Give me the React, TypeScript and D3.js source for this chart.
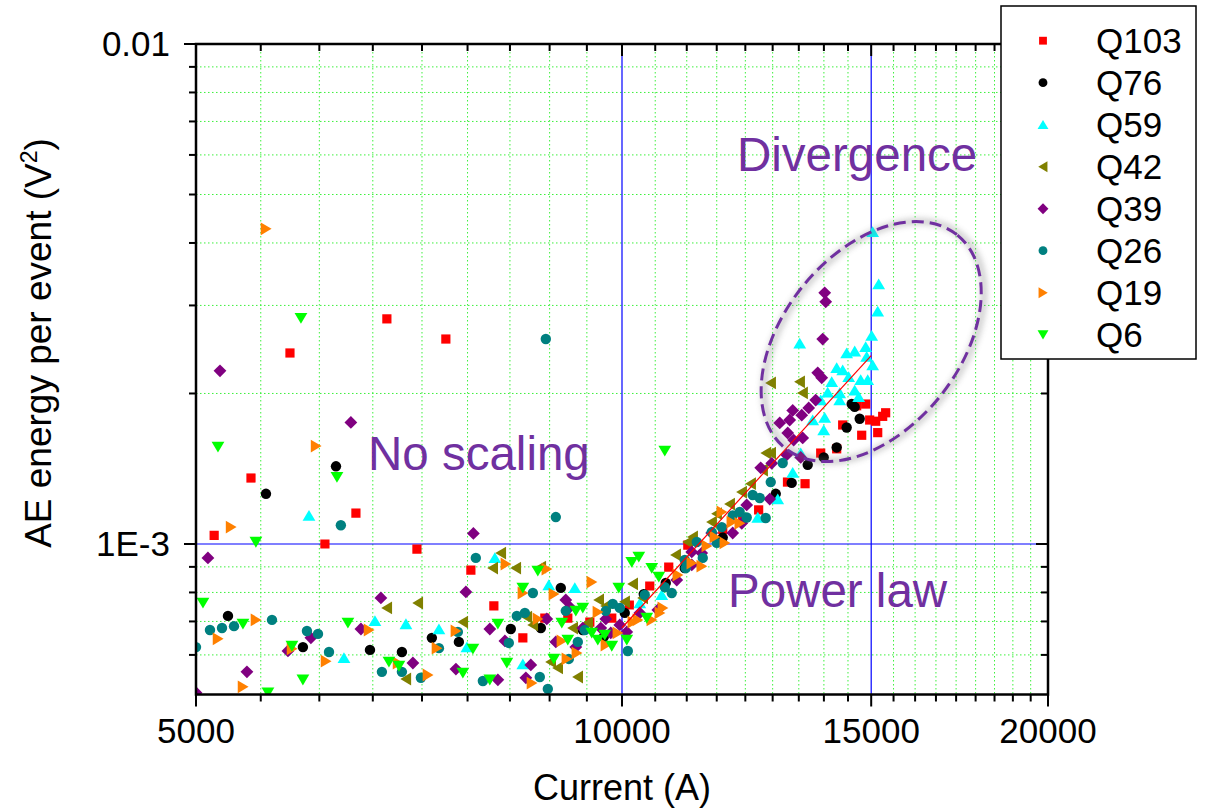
import React from 'react';
import * as d3 from 'd3';

const WIDTH = 1206;
const HEIGHT = 809;
const PLOT = { left: 196, right: 1048, top: 44, bottom: 694.5 };

// Axis ticks
const X_MAJOR = [5000, 10000, 15000, 20000];
const X_LABELS = ['5000', '10000', '15000', '20000'];
const Y_MAJOR = [0.01, 1e-3];
const Y_LABELS = ['0.01', '1E-3'];
const Y_MINOR = [6e-4, 7e-4, 8e-4, 9e-4, 2e-3, 3e-3, 4e-3, 5e-3, 6e-3, 7e-3, 8e-3, 9e-3];

// Power-law fit over the scaling region [current (A), energy (V^2)]
const FIT_LINE: [number, number][] = [[10000, 6.8e-4], [15000, 2.38e-3]];
// Centre of the "divergence" ellipse [current (A), energy (V^2)]
const DIVERGENCE_CENTER: [number, number] = [15000, 2.54e-3];

// Measurements per coil: [current (A), AE energy per event (V^2)]
const Q103: [number, number][] = [
  [5150, 1.04e-3], [5468, 1.355e-3], [5826, 2.41e-3], [6167, 1.0e-3], [6486, 1.153e-3],
  [6821, 2.82e-3], [7163, 9.77e-4], [7508, 2.57e-3], [7820, 8.87e-4], [8118, 7.52e-4],
  [8510, 6.49e-4], [8820, 7.11e-4], [9156, 7.11e-4], [9490, 6.98e-4], [9835, 7.11e-4],
  [10120, 7.55e-4], [10462, 8.24e-4], [10790, 8.99e-4], [11130, 9.95e-4], [11781, 1.07e-3],
  [12170, 1.12e-3], [12490, 1.17e-3], [13090, 1.33e-3], [13470, 1.32e-3], [13817, 1.52e-3],
  [14181, 1.55e-3], [14320, 1.73e-3], [14650, 1.89e-3], [14866, 1.905e-3], [14770, 1.65e-3],
  [14963, 1.77e-3], [15110, 1.76e-3], [15160, 1.67e-3], [15283, 1.8e-3], [15357, 1.83e-3],
];
const Q76: [number, number][] = [
  [5267, 7.18e-4], [5603, 1.26e-3], [5950, 6.22e-4], [6279, 1.43e-3], [6636, 6.14e-4],
  [6990, 6.08e-4], [7339, 6.49e-4], [7669, 6.37e-4], [8345, 6.76e-4], [8763, 6.79e-4],
  [9052, 8.17e-4], [9382, 6.73e-4], [9708, 6.52e-4], [10045, 7.28e-4], [10360, 7.94e-4],
  [10738, 8.36e-4], [11075, 8.95e-4], [11781, 1.03e-3], [12842, 1.26e-3], [13180, 1.325e-3],
  [13528, 1.44e-3], [13885, 1.49e-3], [14181, 1.56e-3], [14413, 1.71e-3], [14532, 1.905e-3],
  [14603, 1.88e-3], [14722, 1.78e-3],
];
const Q59: [number, number][] = [
  [6009, 1.14e-3], [6361, 5.92e-4], [6690, 7.02e-4], [7036, 6.92e-4], [7424, 6.76e-4],
  [7770, 6.22e-4], [8131, 9.38e-4], [8510, 5.75e-4], [8877, 8.28e-4], [9261, 8.17e-4],
  [10294, 7.62e-4], [10668, 7.91e-4], [12472, 1.13e-3], [12884, 1.23e-3], [13202, 1.39e-3],
  [13375, 1.52e-3], [13353, 2.52e-3], [13638, 1.77e-3], [13817, 1.94e-3], [13885, 1.69e-3],
  [13907, 1.79e-3], [13975, 2.01e-3], [14067, 2.11e-3], [14181, 2.25e-3], [14251, 2.005e-3],
  [14251, 1.94e-3], [14320, 2.228e-3], [14413, 2.41e-3], [14460, 2.16e-3], [14603, 2.43e-3],
  [14603, 2.03e-3], [14698, 1.97e-3], [14746, 2.13e-3], [14866, 2.48e-3], [14890, 2.37e-3],
  [14915, 2.13e-3], [15036, 2.28e-3], [15012, 2.61e-3], [15160, 2.92e-3], [15184, 3.31e-3],
  [15036, 4.21e-3],
];
const Q42: [number, number][] = [
  [6821, 7.45e-4], [7036, 5.37e-4], [7174, 7.62e-4], [7719, 6.98e-4], [8104, 8.95e-4],
  [8211, 9.59e-4], [8414, 8.95e-4], [8566, 7.14e-4], [8650, 6.89e-4], [8763, 8.99e-4],
  [8906, 5.81e-4], [9008, 5.65e-4], [9231, 6.79e-4], [9306, 5.42e-4], [9459, 6.95e-4],
  [9630, 7.73e-4], [9740, 7.52e-4], [10045, 7.66e-4], [10177, 8.32e-4], [10344, 7.8e-4],
  [10914, 9.51e-4], [11130, 1.009e-3], [11220, 1.033e-3], [11572, 1.106e-3], [11667, 1.15e-3],
  [11916, 1.202e-3], [12151, 1.27e-3], [12330, 1.32e-3], [12573, 1.406e-3], [12640, 1.52e-3],
  [12740, 1.52e-3], [12738, 2.1e-3], [13353, 2.11e-3], [13418, 2.005e-3],
];
const Q39: [number, number][] = [
  [5000, 5.04e-4], [5098, 9.38e-4], [5199, 2.22e-3], [5432, 5.55e-4], [5807, 6.11e-4],
  [6028, 6.49e-4], [6433, 1.75e-3], [6539, 6.76e-4], [6755, 7.8e-4], [7116, 5.78e-4],
  [7632, 5.62e-4], [7757, 8.02e-4], [7852, 1.05e-3], [8065, 6.76e-4], [8171, 5.35e-4],
  [8265, 6.4e-4], [8552, 5.4e-4], [8621, 5.73e-4], [8848, 7.08e-4], [8979, 6.37e-4],
  [9126, 7.73e-4], [9186, 7.48e-4], [9276, 6.22e-4], [9382, 6.79e-4], [9661, 6.79e-4],
  [9740, 7.08e-4], [9819, 6.64e-4], [9964, 6.89e-4], [10078, 6.67e-4], [10294, 7.28e-4],
  [10600, 7.38e-4], [10932, 8.47e-4], [11202, 9.64e-4], [11202, 9.08e-4], [11385, 9.59e-4],
  [11572, 1.052e-3], [11974, 1.052e-3], [12151, 1.1e-3], [12250, 1.197e-3], [12717, 1.23e-3],
  [12532, 1.42e-3], [12759, 1.45e-3], [13073, 1.507e-3], [13375, 1.49e-3], [13418, 1.63e-3],
  [13223, 1.614e-3], [13095, 1.667e-3], [12926, 1.746e-3], [13137, 1.77e-3], [13202, 1.85e-3],
  [13397, 1.81e-3], [13550, 1.871e-3], [13705, 1.94e-3], [13750, 2.2e-3], [13840, 2.15e-3],
  [13862, 2.57e-3], [13907, 3.18e-3], [13930, 3.05e-3],
];
const Q26: [number, number][] = [
  [5000, 6.22e-4], [5115, 6.73e-4], [5216, 6.79e-4], [5319, 6.85e-4], [5658, 7.05e-4],
  [5989, 6.7e-4], [6098, 6.61e-4], [6208, 6.08e-4], [6329, 1.09e-3], [6766, 5.55e-4],
  [6990, 5.55e-4], [7209, 5.4e-4], [7424, 6.19e-4], [7656, 6.67e-4], [7883, 9.38e-4],
  [7974, 5.32e-4], [8318, 6.34e-4], [8427, 7.18e-4], [8538, 7.28e-4], [8650, 7.98e-4],
  [8748, 5.42e-4], [8834, 2.57e-3], [8863, 5.13e-4], [8979, 1.132e-3], [9126, 7.35e-4],
  [9171, 5.89e-4], [9306, 6.37e-4], [9413, 6.73e-4], [9740, 7.35e-4], [9851, 7.59e-4],
  [9964, 7.45e-4], [10095, 6.11e-4], [10377, 7.91e-4], [10721, 8.2e-4], [10843, 7.98e-4],
  [11093, 8.95e-4], [11075, 9.29e-4], [11294, 1.009e-3], [11404, 9.38e-4], [11572, 1.056e-3],
  [11667, 1.005e-3], [11762, 1.081e-3], [11974, 1.14e-3], [12111, 1.159e-3], [12250, 1.13e-3],
  [12370, 1.253e-3], [12512, 1.236e-3], [12634, 1.127e-3], [12738, 1.33e-3], [12988, 1.452e-3],
];
const Q19: [number, number][] = [
  [5182, 6.46e-4], [5293, 1.081e-3], [5397, 5.18e-4], [5512, 7.05e-4], [5603, 4.27e-3],
  [5845, 6.17e-4], [6078, 1.57e-3], [6177, 5.83e-4], [6625, 6.73e-4], [6945, 5.78e-4],
  [7292, 5.47e-4], [7399, 6.19e-4], [7631, 6.7e-4], [8278, 9.12e-4], [8510, 7.98e-4],
  [8636, 5.27e-4], [8720, 7.08e-4], [8848, 8.91e-4], [8950, 7.94e-4], [9067, 6.4e-4],
  [9141, 5.89e-4], [9291, 6.05e-4], [9520, 8.39e-4], [9614, 7.31e-4], [9740, 6.28e-4],
  [9931, 6.64e-4], [10177, 6.98e-4], [10260, 7.05e-4], [10496, 7.05e-4], [10634, 7.28e-4],
  [10686, 7.45e-4], [10950, 8.67e-4], [11202, 9.16e-4], [11385, 9.03e-4], [11479, 9.91e-4],
  [11629, 1.033e-3], [11762, 1.159e-3], [11820, 1.005e-3], [11955, 1.106e-3], [12111, 1.1e-3],
];
const Q6: [number, number][] = [
  [5057, 7.62e-4], [5182, 1.563e-3], [5397, 6.92e-4], [5512, 1.009e-3], [5621, 5.04e-4],
  [5845, 6.25e-4], [5931, 2.83e-3], [5950, 5.35e-4], [6289, 1.36e-3], [6402, 6.95e-4],
  [6844, 5.81e-4], [6956, 5.7e-4], [7719, 5.52e-4], [7846, 6.17e-4], [8065, 5.35e-4],
  [8171, 6.92e-4], [8291, 5.78e-4], [8510, 8.17e-4], [8720, 8.83e-4], [8950, 5.89e-4],
  [9067, 6.95e-4], [9156, 6.43e-4], [9276, 7.35e-4], [9382, 7.45e-4], [9520, 6.64e-4],
  [9614, 6.43e-4], [9724, 6.58e-4], [9835, 6.25e-4], [9948, 8.17e-4], [10078, 6.43e-4],
  [10160, 9.2e-4], [10277, 9.42e-4], [10411, 7.11e-4], [10496, 8.95e-4], [10617, 8.59e-4],
  [10721, 1.535e-3],
];

type Shape = 'square' | 'circle' | 'up' | 'left' | 'diamond' | 'right' | 'down';

const SERIES: { name: string; data: [number, number][]; color: string; shape: Shape }[] = [
  { name: 'Q103', data: Q103, color: '#ff0000', shape: 'square' },
  { name: 'Q76', data: Q76, color: '#000000', shape: 'circle' },
  { name: 'Q59', data: Q59, color: '#00ffff', shape: 'up' },
  { name: 'Q42', data: Q42, color: '#808000', shape: 'left' },
  { name: 'Q39', data: Q39, color: '#800080', shape: 'diamond' },
  { name: 'Q26', data: Q26, color: '#008080', shape: 'circle' },
  { name: 'Q19', data: Q19, color: '#ff8000', shape: 'right' },
  { name: 'Q6', data: Q6, color: '#00ff00', shape: 'down' },
];

const FONT = "'Liberation Sans', Arial, Helvetica, sans-serif";
const ANNOT = '#7030a0';

function Marker({ shape, x, y, color, k = 1 }: { shape: Shape; x: number; y: number; color: string; k?: number }) {
  const t = `translate(${x},${y}) scale(${k})`;
  switch (shape) {
    case 'square':
      return <path transform={t} d="M-4.6,-4.6H4.6V4.6H-4.6Z" fill={color} />;
    case 'circle':
      return <circle transform={t} r={5.2} fill={color} />;
    case 'up':
      return <path transform={t} d="M0,-5.6L6.4,5.2L-6.4,5.2Z" fill={color} />;
    case 'down':
      return <path transform={t} d="M0,5.6L6.4,-5.2L-6.4,-5.2Z" fill={color} />;
    case 'left':
      return <path transform={t} d="M-5.6,0L5.2,-6.4L5.2,6.4Z" fill={color} />;
    case 'right':
      return <path transform={t} d="M5.6,0L-5.2,-6.4L-5.2,6.4Z" fill={color} />;
    case 'diamond':
      return <path transform={t} d="M0,-6.4L6.4,0L0,6.4L-6.4,0Z" fill={color} />;
  }
  return null;
}

export default function App() {
  const x = d3.scaleLog().domain([5000, 20000]).range([PLOT.left, PLOT.right]);
  const y = d3.scaleLog().domain([5e-4, 0.01]).range([PLOT.bottom, PLOT.top]);

  const xMinor: number[] = [];
  for (let i = 0; i < X_MAJOR.length - 1; i++) {
    const a = X_MAJOR[i];
    const b = X_MAJOR[i + 1];
    for (let k = 1; k < 9; k++) xMinor.push(a + (k * (b - a)) / 9);
  }

  const fitPath = d3
    .line<[number, number]>()
    .x((d) => x(d[0]))
    .y((d) => y(d[1]))(FIT_LINE);

  const ecx = x(DIVERGENCE_CENTER[0]);
  const ecy = y(DIVERGENCE_CENTER[1]);

  const majorLen = 12;
  const minorLen = 7;
  const tickStroke = 2;

  return (
    <svg
      width={WIDTH}
      height={HEIGHT}
      style={{ position: 'absolute', left: 0, top: 0, background: '#fff' }}
      fontFamily={FONT}
    >
      <defs>
        <clipPath id="plot-clip">
          <rect x={PLOT.left} y={PLOT.top} width={PLOT.right - PLOT.left} height={PLOT.bottom - PLOT.top} />
        </clipPath>
        <filter id="soft-shadow" x="-20%" y="-20%" width="140%" height="140%">
          <feGaussianBlur stdDeviation="3" />
        </filter>
      </defs>

      <rect width={WIDTH} height={HEIGHT} fill="#fff" />

      {/* minor grid */}
      <g stroke="#3cf03c" strokeWidth={1} strokeDasharray="1.5,2.5">
        {xMinor.map((v) => (
          <line key={`gx${v}`} x1={x(v)} x2={x(v)} y1={PLOT.top} y2={PLOT.bottom} />
        ))}
        {Y_MINOR.map((v) => (
          <line key={`gy${v}`} x1={PLOT.left} x2={PLOT.right} y1={y(v)} y2={y(v)} />
        ))}
      </g>

      {/* major grid */}
      <g stroke="#0000ff" strokeWidth={1.2}>
        {X_MAJOR.slice(1, -1).map((v) => (
          <line key={`mx${v}`} x1={x(v)} x2={x(v)} y1={PLOT.top} y2={PLOT.bottom} />
        ))}
        <line x1={PLOT.left} x2={PLOT.right} y1={y(1e-3)} y2={y(1e-3)} />
      </g>

      {/* data points */}
      <g clipPath="url(#plot-clip)">
        {SERIES.map((s) => (
          <g key={s.name}>
            {s.data.map((d, i) => (
              <Marker key={i} shape={s.shape} x={x(d[0])} y={y(d[1])} color={s.color} />
            ))}
          </g>
        ))}
      </g>

      {/* power-law fit */}
      <path d={fitPath ?? ''} fill="none" stroke="#ff0000" strokeWidth={1.2} />

      {/* frame */}
      <rect
        x={PLOT.left}
        y={PLOT.top}
        width={PLOT.right - PLOT.left}
        height={PLOT.bottom - PLOT.top}
        fill="none"
        stroke="#000"
        strokeWidth={2.5}
      />

      {/* x ticks: bottom outward, top inward; y ticks: left outward, right inward */}
      <g stroke="#000" strokeWidth={tickStroke}>
        {X_MAJOR.map((v) => (
          <g key={`xt${v}`}>
            <line x1={x(v)} x2={x(v)} y1={PLOT.bottom} y2={PLOT.bottom + majorLen} />
            <line x1={x(v)} x2={x(v)} y1={PLOT.top} y2={PLOT.top + majorLen} />
          </g>
        ))}
        {xMinor.map((v) => (
          <g key={`xm${v}`}>
            <line x1={x(v)} x2={x(v)} y1={PLOT.bottom} y2={PLOT.bottom + minorLen} />
            <line x1={x(v)} x2={x(v)} y1={PLOT.top} y2={PLOT.top + minorLen} />
          </g>
        ))}
        {Y_MAJOR.map((v) => (
          <g key={`yt${v}`}>
            <line x1={PLOT.left - majorLen} x2={PLOT.left} y1={y(v)} y2={y(v)} />
            <line x1={PLOT.right - majorLen} x2={PLOT.right} y1={y(v)} y2={y(v)} />
          </g>
        ))}
        {Y_MINOR.map((v) => (
          <g key={`ym${v}`}>
            <line x1={PLOT.left - minorLen} x2={PLOT.left} y1={y(v)} y2={y(v)} />
            <line x1={PLOT.right - minorLen} x2={PLOT.right} y1={y(v)} y2={y(v)} />
          </g>
        ))}
      </g>

      {/* tick labels */}
      <g fontSize={35} fill="#000">
        {X_MAJOR.map((v, i) => (
          <text key={`xl${v}`} x={x(v)} y={743} textAnchor="middle">
            {X_LABELS[i]}
          </text>
        ))}
        {Y_MAJOR.map((v, i) => (
          <text key={`yl${v}`} x={170} y={y(v) + 12} textAnchor="end">
            {Y_LABELS[i]}
          </text>
        ))}
      </g>

      {/* axis titles */}
      <text x={(PLOT.left + PLOT.right) / 2} y={800} textAnchor="middle" fontSize={36} fill="#000">
        Current (A)
      </text>
      <text transform="translate(51,343) rotate(-90)" textAnchor="middle" fontSize={37} fill="#000">
        AE energy per event (V<tspan dy={-14} fontSize={23}>2</tspan>
        <tspan dy={14}>)</tspan>
      </text>

      {/* region annotations */}
      <g fontSize={47.5} fill={ANNOT}>
        <text x={737} y={171}>Divergence</text>
        <text x={368} y={470}>No scaling</text>
        <text x={728} y={607}>Power law</text>
      </g>

      {/* divergence ellipse with soft shadow */}
      <g transform={`translate(${ecx},${ecy}) rotate(-51)`}>
        <ellipse
          rx={137}
          ry={88}
          fill="none"
          stroke="#777"
          strokeWidth={5}
          opacity={0.45}
          filter="url(#soft-shadow)"
          transform="translate(2,2)"
        />
        <ellipse rx={137} ry={88} fill="none" stroke={ANNOT} strokeWidth={3} strokeDasharray="12,6" />
      </g>

      {/* legend */}
      <g>
        <rect x={1001} y={6} width={195} height={353} fill="#fff" stroke="#000" strokeWidth={1.5} />
        {SERIES.map((s, i) => {
          const ry = 40.7 + i * 42;
          return (
            <g key={`lg${s.name}`}>
              <Marker shape={s.shape} x={1043} y={ry} color={s.color} k={0.85} />
              <text x={1096} y={ry + 12} fontSize={35} fill="#000">
                {s.name}
              </text>
            </g>
          );
        })}
      </g>
    </svg>
  );
}
